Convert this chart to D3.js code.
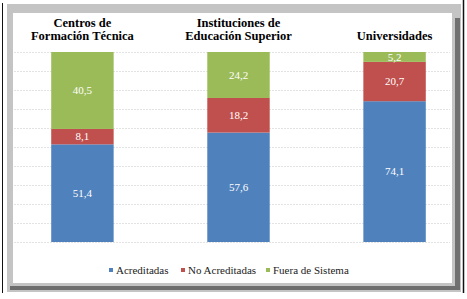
<!DOCTYPE html>
<html>
<head>
<meta charset="utf-8">
<script src="https://cdn.jsdelivr.net/npm/d3@7"></script>
<style>
  body { margin: 0; background: #fff; }
  svg { display: block; }
</style>
</head>
<body>
<div id="chart"></div>
<script>
// data
var groups = ["Centros de Formación Técnica", "Instituciones de Educación Superior", "Universidades"];
var titleLines = [["Centros de", "Formación Técnica"], ["Instituciones de", "Educación Superior"], ["Universidades"]];
var seriesNames = ["Acreditadas", "No Acreditadas", "Fuera de Sistema"];
var acreditadas = [51.4, 57.6, 74.1];
var noAcreditadas = [8.1, 18.2, 20.7];
var fueraSistema = [40.5, 24.2, 5.2];
var gridTicks = [0, 10, 20, 30, 40, 50, 60, 70, 80, 90, 100];

var colors = ["#4f81bd", "#c0504d", "#9bbb59"];
var serif = "'Liberation Serif'";
var fmt = function(v) { return d3.format(".1f")(v).replace(".", ","); };

var width = 467, height = 299;

var svg = d3.select("#chart").append("svg")
  .attr("width", width)
  .attr("height", height);

// frame round the chart (screenshot look)
svg.append("line").attr("x1", 2.5).attr("x2", 2.5).attr("y1", 3).attr("y2", 293)
  .attr("stroke", "#111").attr("stroke-width", 1);
svg.append("line").attr("x1", 463.5).attr("x2", 463.5).attr("y1", 0).attr("y2", 293)
  .attr("stroke", "#111").attr("stroke-width", 1.5);
svg.append("rect").attr("x", 7).attr("y", 4).attr("width", 454).attr("height", 288)
  .attr("fill", "#c4c4c4");
svg.append("rect").attr("x", 455).attr("y", 18).attr("width", 5).attr("height", 272)
  .attr("fill", "#707070");
svg.append("rect").attr("x", 10).attr("y", 286).attr("width", 450).attr("height", 4)
  .attr("fill", "#6e6e6e");
svg.append("rect").attr("x", 13).attr("y", 13).attr("width", 439).attr("height", 270)
  .attr("fill", "#fff");

var x = d3.scaleBand()
  .domain(groups)
  .range([20, 457])
  .paddingInner(0.6)
  .paddingOuter(0.2);

var y = d3.scaleLinear()
  .domain([0, 100])
  .range([242, 52]);

// gridlines, very faint dotted
svg.append("g")
  .selectAll("line")
  .data(gridTicks)
  .enter().append("line")
  .attr("x1", 14)
  .attr("x2", 450)
  .attr("y1", function(d) { return Math.round(y(d)) + 0.5; })
  .attr("y2", function(d) { return Math.round(y(d)) + 0.5; })
  .attr("stroke", "#e3e3e3")
  .attr("stroke-dasharray", "2,1");

var table = groups.map(function(g, i) {
  return {
    group: g,
    "Acreditadas": acreditadas[i],
    "No Acreditadas": noAcreditadas[i],
    "Fuera de Sistema": fueraSistema[i]
  };
});

var stacked = d3.stack().keys(seriesNames)(table);

var layer = svg.append("g")
  .selectAll("g")
  .data(stacked)
  .enter().append("g")
  .attr("fill", function(d, i) { return colors[i]; });

layer.selectAll("rect")
  .data(function(d) { return d; })
  .enter().append("rect")
  .attr("x", function(d) { return x(d.data.group); })
  .attr("y", function(d) { return y(d[1]); })
  .attr("width", x.bandwidth())
  .attr("height", function(d) { return y(d[0]) - y(d[1]); });

// value labels
layer.selectAll("text")
  .data(function(d) { return d; })
  .enter().append("text")
  .style("font-family", serif, "important")
  .style("font-size", "11px")
  .attr("x", function(d) { return x(d.data.group) + x.bandwidth() / 2; })
  .attr("y", function(d) { return (y(d[0]) + y(d[1])) / 2; })
  .attr("dy", "0.35em")
  .attr("text-anchor", "middle")
  .attr("fill", "#fff")
  .text(function(d) { return fmt(d[1] - d[0]); });

// group titles above bars
var titles = svg.append("g")
  .selectAll("text")
  .data(groups)
  .enter().append("text")
  .style("font-family", serif, "important")
  .style("font-size", "12.5px")
  .style("font-weight", "bold")
  .attr("text-anchor", "middle")
  .attr("x", function(d) { return x(d) + x.bandwidth() / 2; })
  .attr("fill", "#000");

titles.each(function(d, i) {
  var lines = titleLines[i];
  var t = d3.select(this);
  lines.forEach(function(l, j) {
    t.append("tspan")
      .attr("x", x(d) + x.bandwidth() / 2)
      .attr("y", 40 - (lines.length - 1 - j) * 13)
      .text(l);
  });
});

// legend
var legendX = [109, 181, 266];
var legend = svg.append("g")
  .selectAll("g")
  .data(seriesNames)
  .enter().append("g")
  .attr("transform", function(d, i) { return "translate(" + legendX[i] + ",270)"; });

legend.append("rect")
  .attr("x", 0)
  .attr("y", -2)
  .attr("width", 4)
  .attr("height", 4)
  .attr("fill", function(d, i) { return colors[i]; });

legend.append("text")
  .style("font-family", serif, "important")
  .style("font-size", "11px")
  .attr("x", 7)
  .attr("y", 0)
  .attr("dy", "0.35em")
  .attr("fill", "#222")
  .text(function(d) { return d; });
</script>
</body>
</html>
